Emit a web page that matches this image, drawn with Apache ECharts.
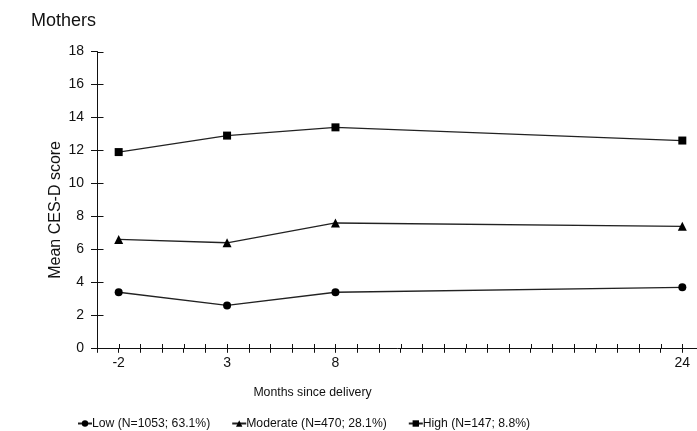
<!DOCTYPE html>
<html>
<head>
<meta charset="utf-8">
<script src="https://cdn.jsdelivr.net/npm/echarts@6/dist/echarts.min.js"></script>
<style>html,body{margin:0;padding:0;background:#fff}#c{width:697px;height:431px}</style>
</head>
<body>
<div id="c"></div>
<script>
var months = [-2, 3, 8, 24];
var xTickLabels = [-2, 3, 8, 24];
var xTickValues = [-3, -2, -1, 0, 1, 2, 3, 4, 5, 6, 7, 8, 9, 10, 11, 12, 13, 14, 15, 16, 17, 18, 19, 20, 21, 22, 23, 24, 25];
var yTickValues = [0, 2, 4, 6, 8, 10, 12, 14, 16, 18];
var lowValues = [3.4, 2.6, 3.4, 3.7];
var moderateValues = [6.6, 6.4, 7.6, 7.4];
var highValues = [11.9, 12.9, 13.4, 12.6];
var seriesNames = ['Low (N=1053; 63.1%)', 'Moderate (N=470; 28.1%)', 'High (N=147; 8.8%)'];

function pairs(vals) { return months.map(function (m, i) { return [m, vals[i]]; }); }

var font = 'Liberation Sans, Arial, sans-serif';
var ink = '#111';
var X_MIN = -3, Y_MIN = 0;

var chart = echarts.init(document.getElementById('c'));

function mkLine(name, vals, symbol, size) {
  return {
    name: name, type: 'line', data: pairs(vals), symbol: symbol, symbolSize: size,
    itemStyle: { color: '#000' }, lineStyle: { color: '#222', width: 1.3 },
    xAxisIndex: 0, yAxisIndex: 0, animation: false, z: 5
  };
}

// inner half of the crossing axis ticks
var tickData = xTickValues.map(function (v) { return [v, Y_MIN, 0]; })
  .concat(yTickValues.map(function (v) { return [X_MIN, v, 1]; }));

chart.setOption({
  animation: false,
  title: { text: 'Mothers', left: 26, top: 7, textStyle: { fontFamily: font, fontSize: 18, fontWeight: 'normal', color: ink } },
  grid: { left: 97, right: -7, top: 51.5, bottom: 82.7, containLabel: false, outerBoundsMode: 'none' },
  xAxis: {
    type: 'value', min: X_MIN, max: 25, interval: 1, splitLine: { show: false },
    axisLine: { show: true, onZero: false, lineStyle: { color: ink, width: 1 } },
    axisTick: { show: true, length: 4.5, lineStyle: { color: ink } },
    axisLabel: { margin: 8, fontFamily: font, fontSize: 14, color: ink,
      formatter: function (v) { return xTickLabels.indexOf(v) >= 0 ? String(v) : ''; } }
  },
  yAxis: {
    type: 'value', min: Y_MIN, max: 18, interval: 2, splitLine: { show: false },
    name: 'Mean CES-D score', nameLocation: 'middle', nameGap: 33, nameMoveOverlap: false,
    nameTextStyle: { fontFamily: font, fontSize: 16, color: ink, padding: [0, 20, 0, 0] },
    axisLine: { show: true, onZero: false, lineStyle: { color: ink, width: 1 } },
    axisTick: { show: true, length: 6, lineStyle: { color: ink } },
    axisLabel: { margin: 13, fontFamily: font, fontSize: 14, color: ink }
  },
  graphic: [{
    type: 'text', x: 312.5, y: 392.7,
    style: { text: 'Months since delivery', font: '12.3px ' + font, fill: ink, textAlign: 'center', textVerticalAlign: 'middle' }
  }],
  legend: {
    left: 72, top: 412.5, itemWidth: 14, itemHeight: 8, itemGap: 21,
    textStyle: { fontFamily: font, fontSize: 12.2, color: ink, padding: [0, 0, 0, -5] },
    data: seriesNames
  },
  series: [
    mkLine(seriesNames[0], lowValues, 'circle', 8),
    mkLine(seriesNames[1], moderateValues, 'triangle', 9),
    mkLine(seriesNames[2], highValues, 'rect', 8),
    {
      name: 'ticks', type: 'custom', silent: true, clip: false, z: 3,
      data: tickData,
      renderItem: function (params, api) {
        var p = api.coord([api.value(0), api.value(1)]);
        var vertical = api.value(2) === 0;
        var x1 = Math.round(p[0]) + 0.5, y1 = Math.round(p[1]) + 0.5;
        var shape = vertical
          ? { x1: x1, y1: y1, x2: x1, y2: y1 - 4.5 }
          : { x1: x1, y1: y1, x2: x1 + 6, y2: y1 };
        return { type: 'line', shape: shape, style: { stroke: ink, lineWidth: 1 } };
      }
    }
  ]
});
</script>
</body>
</html>
